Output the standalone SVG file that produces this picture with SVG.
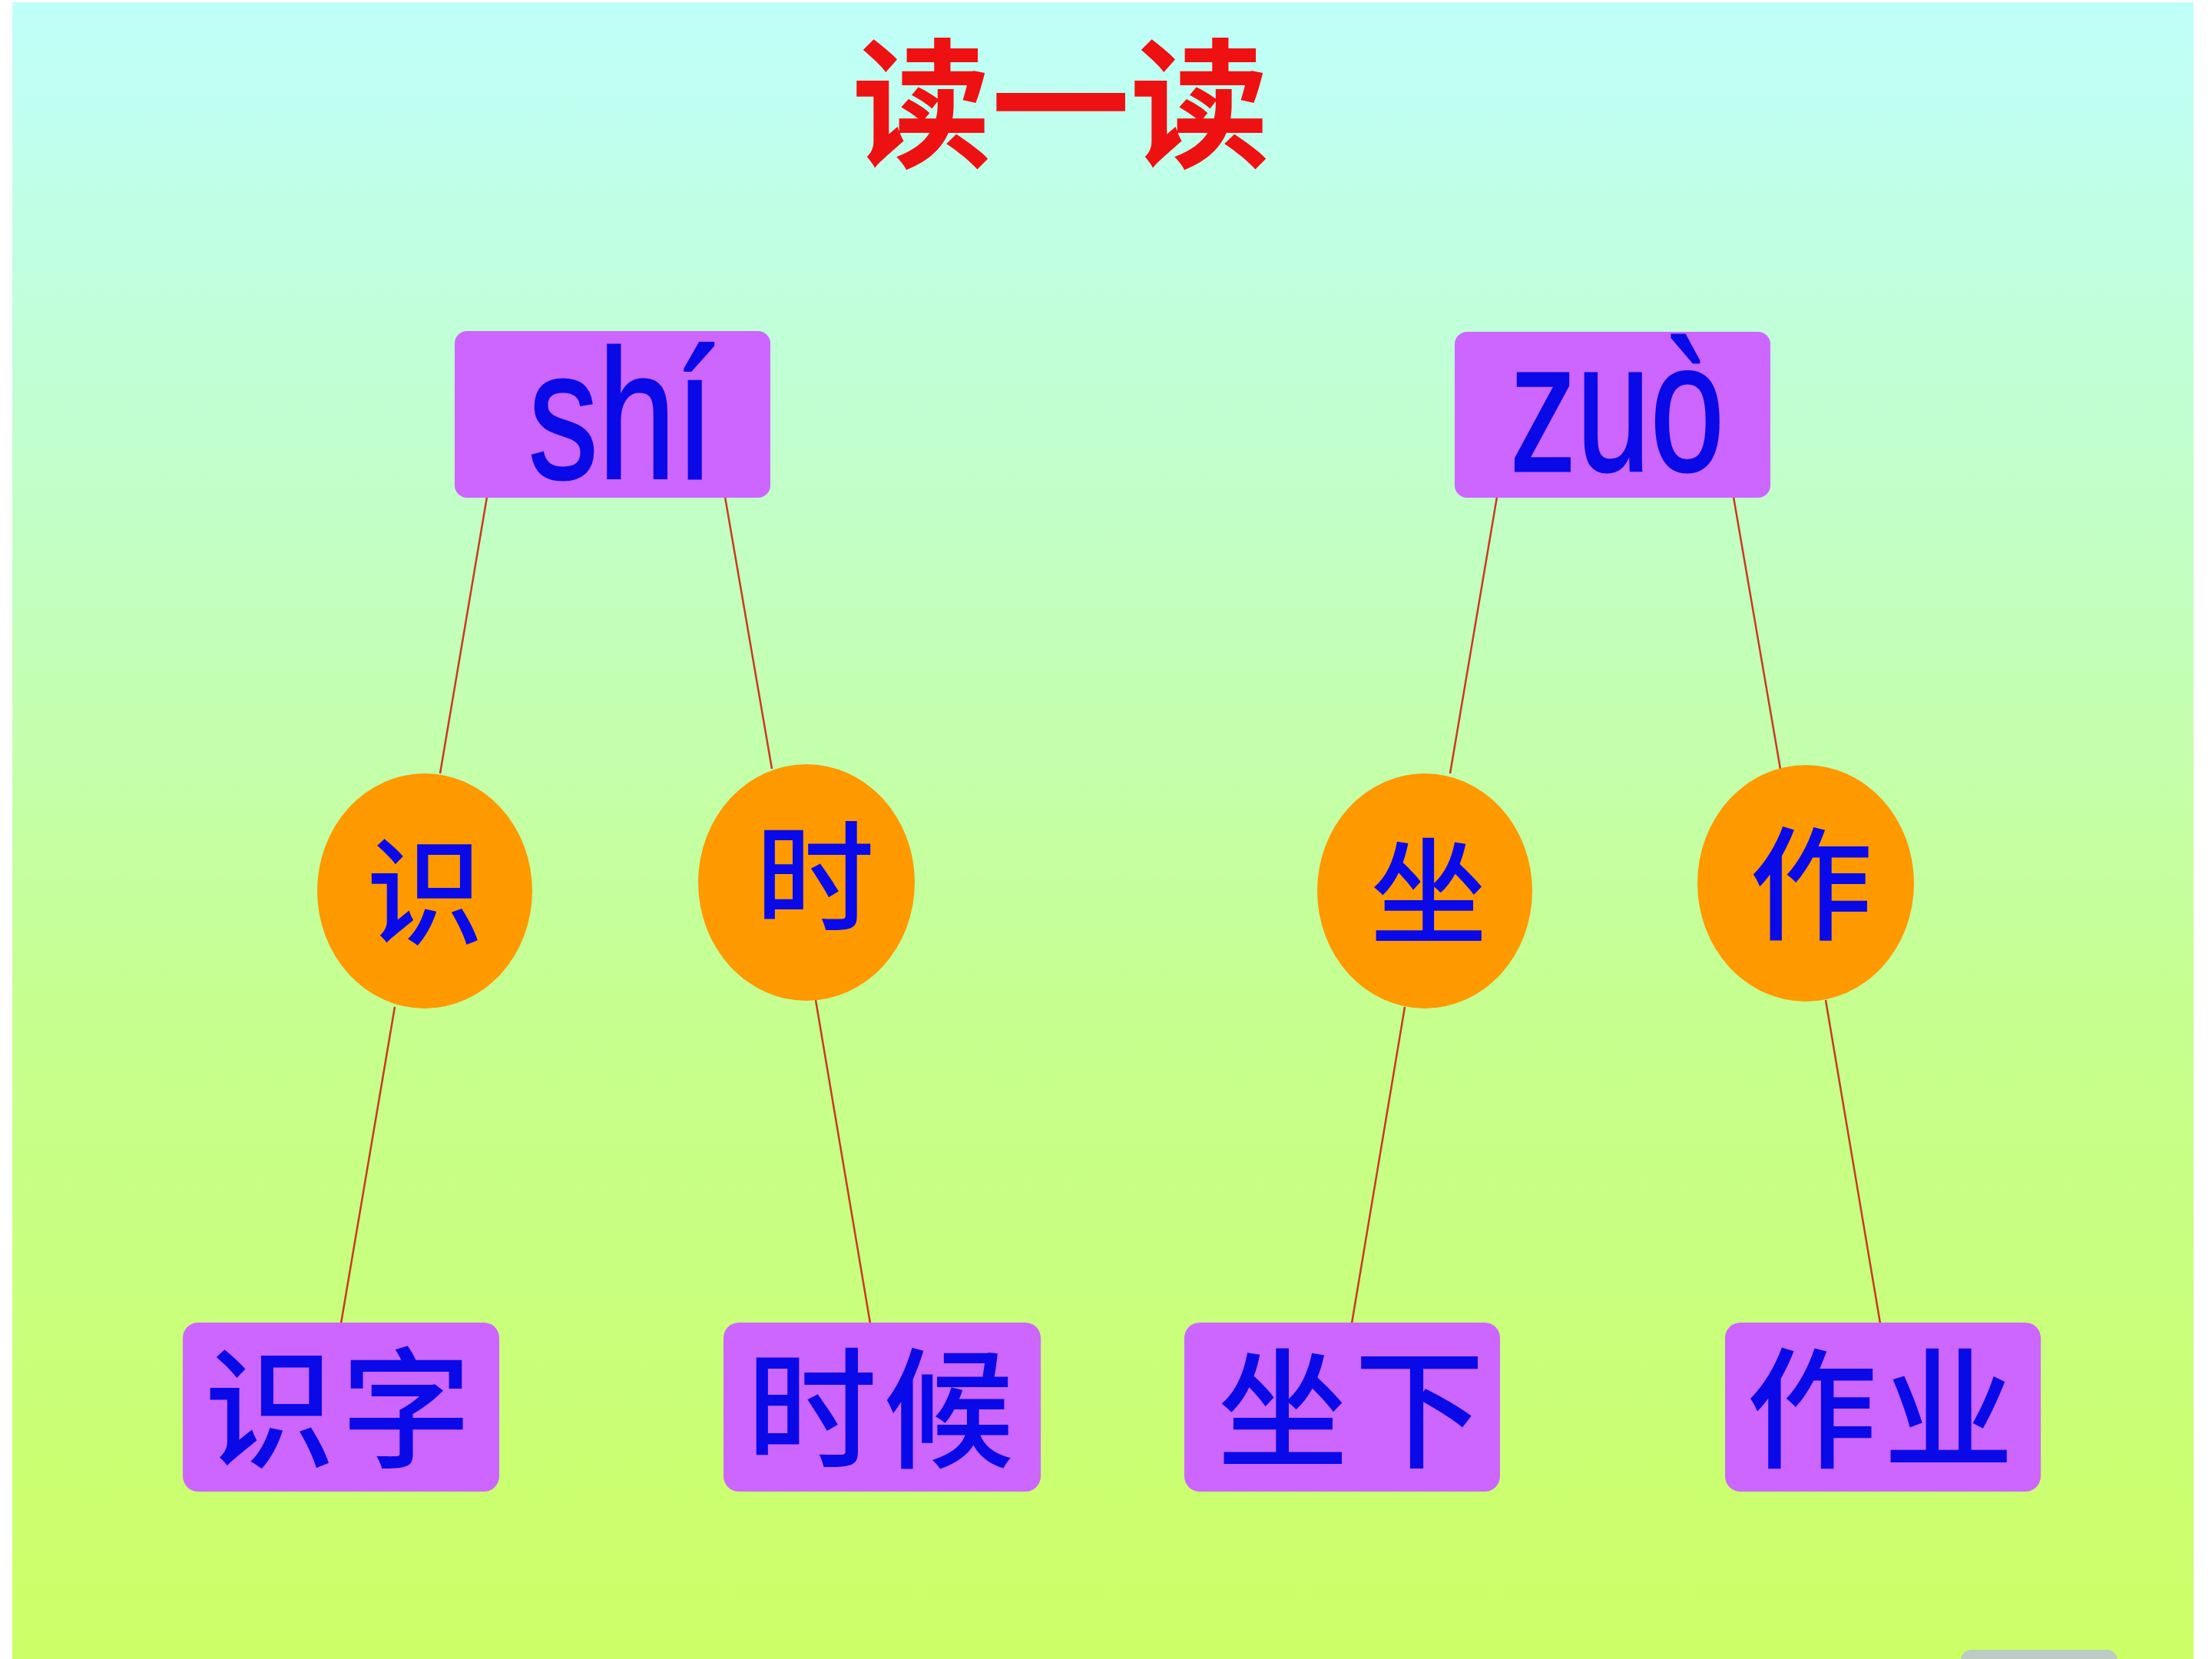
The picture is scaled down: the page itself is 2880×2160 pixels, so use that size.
<svg xmlns="http://www.w3.org/2000/svg" width="2880" height="2160" viewBox="0 0 2880 2160">
<defs>
<linearGradient id="bg" x1="0" y1="0" x2="0" y2="1">
<stop offset="0" stop-color="#BFFFFA"/>
<stop offset="0.3" stop-color="#C2FFC8"/>
<stop offset="0.6" stop-color="#C6FF90"/>
<stop offset="1" stop-color="#CCFF66"/>
</linearGradient>
<style>
.box{fill:#CC66FF;}
.oval{fill:#FF9900;}
.py{font-family:"Liberation Sans",Arial,sans-serif;fill:#0A0AE8;font-size:240px;font-weight:400;stroke:#0A0AE8;stroke-width:3;}
.hz{font-family:"Noto Sans CJK SC","Noto Sans CJK TC",sans-serif;fill:#0A0AE8;font-weight:500;text-anchor:middle;}
.title{font-family:"Noto Sans CJK SC",sans-serif;fill:#EE1111;font-size:181px;font-weight:700;text-anchor:middle;}
.conn{stroke:#C83A1E;stroke-width:2.5;fill:none;}
</style>
</defs>
<rect x="0" y="0" width="2880" height="2160" fill="#FFFFFF"/>
<rect x="16" y="3" width="2840" height="2157" fill="url(#bg)"/>
<text class="title" x="1381" y="203">读一读</text>
<g id="connectors">
<line class="conn" x1="634" y1="647" x2="573" y2="1007"/>
<line class="conn" x1="944" y1="647" x2="1005" y2="1001"/>
<line class="conn" x1="514" y1="1311" x2="444" y2="1723"/>
<line class="conn" x1="1062" y1="1302" x2="1133" y2="1723"/>
<line class="conn" x1="1949" y1="647" x2="1888" y2="1007"/>
<line class="conn" x1="2257" y1="647" x2="2318" y2="1001"/>
<line class="conn" x1="1829" y1="1311" x2="1760" y2="1723"/>
<line class="conn" x1="2377" y1="1302" x2="2448" y2="1723"/>
</g>
<g id="node-shi">
<rect class="box" x="592" y="431" width="411" height="217" rx="16"/>
<text class="py" x="688" y="623" textLength="242" lengthAdjust="spacingAndGlyphs">shí</text>
</g>
<g id="node-zuo">
<rect class="box" x="1894" y="432" width="411" height="216" rx="16"/>
<text class="py" x="1966" y="613" textLength="279" lengthAdjust="spacingAndGlyphs">zuò</text>
</g>
<g id="node-shi-char">
<ellipse class="oval" cx="553" cy="1160" rx="140" ry="153"/>
<text class="hz" x="553" y="1218" font-size="152">识</text>
</g>
<g id="node-shi2-char">
<ellipse class="oval" cx="1050" cy="1149" rx="141" ry="154"/>
<text class="hz" x="1061" y="1199" font-size="155">时</text>
</g>
<g id="node-zuo-char">
<ellipse class="oval" cx="1855" cy="1160" rx="140" ry="153"/>
<text class="hz" x="1860" y="1218" font-size="152">坐</text>
</g>
<g id="node-zuo2-char">
<ellipse class="oval" cx="2351" cy="1150" rx="141" ry="154"/>
<text class="hz" x="2358" y="1211" font-size="160">作</text>
</g>
<g id="node-shizi">
<rect class="box" x="238" y="1722" width="412" height="220" rx="20"/>
<text class="hz" x="444" y="1898" font-size="170" letter-spacing="8">识字</text>
</g>
<g id="node-shihou">
<rect class="box" x="942" y="1722" width="413" height="220" rx="20"/>
<text class="hz" x="1150" y="1898" font-size="170" letter-spacing="8">时候</text>
</g>
<g id="node-zuoxia">
<rect class="box" x="1542" y="1722" width="411" height="220" rx="20"/>
<text class="hz" x="1763" y="1898" font-size="170" letter-spacing="8">坐下</text>
</g>
<g id="node-zuoye">
<rect class="box" x="2246" y="1722" width="411" height="220" rx="20"/>
<text class="hz" x="2452" y="1898" font-size="170" letter-spacing="8">作业</text>
</g>
<rect x="2553" y="2148" width="204" height="30" rx="14" fill="#BCCBC4"/>
</svg>
